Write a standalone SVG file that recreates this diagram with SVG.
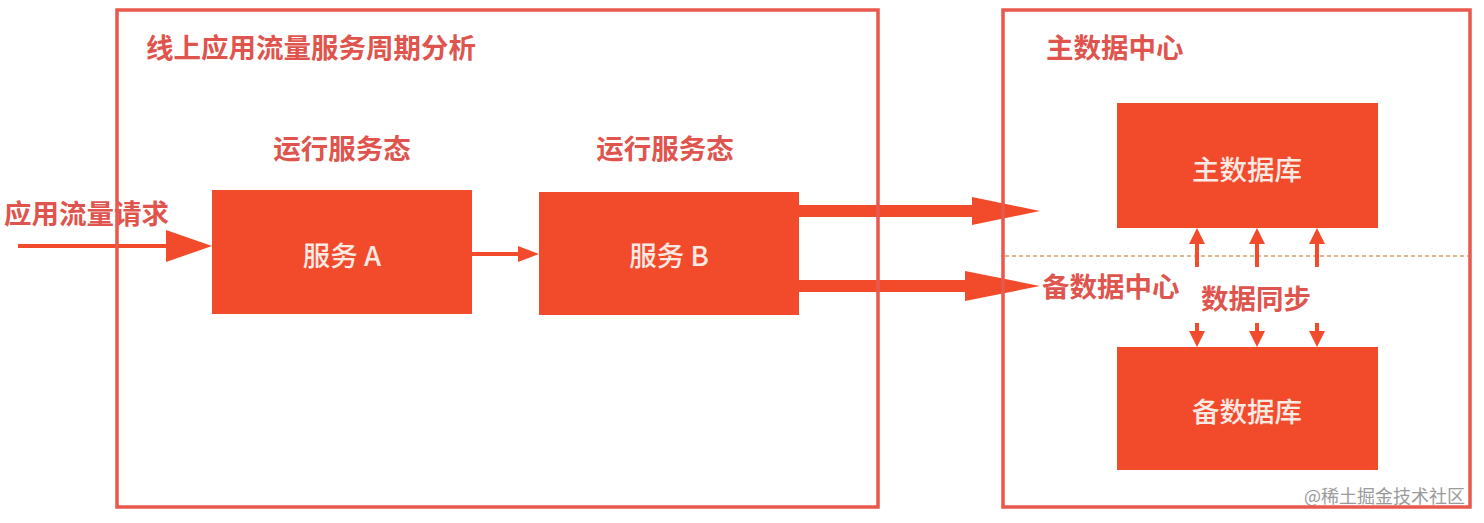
<svg xmlns="http://www.w3.org/2000/svg" width="1484" height="523" viewBox="0 0 1484 523">
<style>
.frame{fill:none;stroke:#e8584c;stroke-width:3.5}
.box{fill:#f24b2c}
.lbl{font-family:"Noto Sans CJK SC","Liberation Sans",sans-serif;font-size:27.5px;font-weight:bold;fill:#e0544e}
.in{font-family:"Noto Sans CJK SC","Liberation Sans",sans-serif;font-size:27.5px;font-weight:500;fill:#fbe9e3;text-anchor:middle;dominant-baseline:central}
.ar{fill:#f24b2c}
.wm{font-family:"Noto Sans CJK SC","Liberation Sans",sans-serif;font-size:18px;fill:#9a9a9a}
</style>
<rect width="1484" height="523" fill="#ffffff"/>
<g id="divider">
<line x1="1005" y1="256" x2="1468" y2="256" stroke="#d9a060" stroke-width="1.5" stroke-dasharray="4 3"/>
</g>
<g id="service-a">
<text class="lbl" x="342" y="159" text-anchor="middle">运行服务态</text>
<rect class="box" x="212" y="190" width="260" height="124"/>
<text class="in" x="342" y="254">服务 A</text>
</g>
<g id="service-b">
<text class="lbl" x="665" y="159" text-anchor="middle">运行服务态</text>
<rect class="box" x="539" y="192" width="260" height="123"/>
<text class="in" x="669" y="254">服务 B</text>
</g>
<g id="main-db">
<rect class="box" x="1117" y="103" width="261" height="125"/>
<text class="in" x="1247" y="168">主数据库</text>
</g>
<g id="standby-db">
<rect class="box" x="1117" y="347" width="261" height="123"/>
<text class="in" x="1247" y="410">备数据库</text>
</g>
<g id="labels">
<text class="lbl" x="4" y="224">应用流量请求</text>
<text class="lbl" x="1042" y="297">备数据中心</text>
<text class="lbl" x="1201" y="309">数据同步</text>
<text class="wm" x="1304" y="503">@稀土掘金技术社区</text>
</g>
<g id="connectors">
<rect class="ar" x="18" y="244" width="152" height="4"/>
<polygon class="ar" points="166,230 212,246 166,262"/>
<rect class="ar" x="472" y="252" width="48" height="4"/>
<polygon class="ar" points="518,246 539,254 518,262"/>
<rect class="ar" x="799" y="205" width="175" height="12"/>
<polygon class="ar" points="972,197 1040,211 972,225"/>
<rect class="ar" x="799" y="280" width="168" height="12"/>
<polygon class="ar" points="965,271 1040,286 965,301"/>
<g>
<rect class="ar" x="1195" y="240" width="4" height="27"/>
<polygon class="ar" points="1189,244 1197,228 1205,244"/>
<rect class="ar" x="1255" y="240" width="4" height="27"/>
<polygon class="ar" points="1249,244 1257,228 1265,244"/>
<rect class="ar" x="1315" y="240" width="4" height="27"/>
<polygon class="ar" points="1309,244 1317,228 1325,244"/>
</g>
<g>
<rect class="ar" x="1195" y="323" width="4" height="12"/>
<polygon class="ar" points="1189,331 1197,347 1205,331"/>
<rect class="ar" x="1255" y="323" width="4" height="12"/>
<polygon class="ar" points="1249,331 1257,347 1265,331"/>
<rect class="ar" x="1315" y="323" width="4" height="12"/>
<polygon class="ar" points="1309,331 1317,347 1325,331"/>
</g>
</g>
<g id="online">
<rect class="frame" x="117" y="10" width="761" height="497"/>
<text class="lbl" x="146" y="58">线上应用流量服务周期分析</text>
</g>
<g id="primary-dc">
<rect class="frame" x="1003" y="10" width="467" height="497"/>
<text class="lbl" x="1046" y="58">主数据中心</text>
</g>
</svg>
